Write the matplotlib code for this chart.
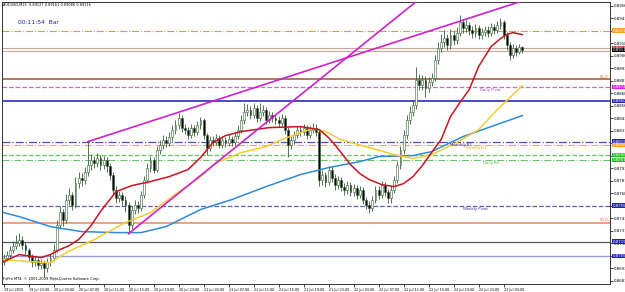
import numpy as np
import matplotlib
matplotlib.use("Agg")
import matplotlib.pyplot as plt

# AUDUSD 30-min candles, prices in pips (x 1e-4)
close_pips = [8704, 8707, 8712, 8716, 8719, 8722, 8717, 8712, 8705, 8700,
              8702, 8697, 8699, 8694, 8700, 8704, 8712, 8737, 8750, 8742,
              8762, 8767, 8757, 8779, 8784, 8782, 8790, 8797, 8802, 8799,
              8804, 8797, 8802, 8796, 8787, 8772, 8764, 8767, 8762, 8757,
              8737, 8752, 8757, 8754, 8767, 8782, 8794, 8802, 8792, 8812,
              8817, 8822, 8819, 8825, 8832, 8837, 8844, 8834, 8832, 8827,
              8834, 8830, 8837, 8842, 8827, 8814, 8822, 8820, 8824, 8817,
              8822, 8819, 8823, 8820, 8826, 8832, 8842, 8850, 8852, 8847,
              8854, 8844, 8850, 8852, 8842, 8847, 8844, 8842, 8839, 8844,
              8832, 8817, 8822, 8827, 8832, 8830, 8834, 8827, 8832, 8834,
              8830, 8782, 8787, 8780, 8792, 8784, 8777, 8782, 8775, 8772,
              8777, 8770, 8774, 8767, 8772, 8762, 8757, 8754, 8762, 8772,
              8767, 8777, 8770, 8764, 8772, 8782, 8797, 8812, 8827, 8842,
              8850, 8857, 8882, 8877, 8882, 8874, 8880, 8884, 8902, 8914,
              8920, 8924, 8917, 8927, 8922, 8929, 8940, 8934, 8937, 8932,
              8929, 8934, 8927, 8930, 8932, 8929, 8935, 8932, 8937, 8940,
              8927, 8917, 8907, 8914, 8910, 8915, 8912]
high_pips = [8708, 8711, 8716, 8721, 8727, 8729, 8726, 8720, 8714, 8708,
             8706, 8705, 8703, 8702, 8704, 8708, 8718, 8742, 8756, 8753,
             8768, 8774, 8770, 8785, 8790, 8789, 8795, 8820, 8808, 8806,
             8809, 8807, 8806, 8805, 8799, 8790, 8776, 8771, 8770, 8766,
             8760, 8756, 8762, 8761, 8771, 8786, 8799, 8806, 8805, 8816,
             8822, 8827, 8826, 8830, 8837, 8842, 8849, 8847, 8838, 8835,
             8838, 8837, 8841, 8845, 8844, 8829, 8826, 8826, 8828, 8827,
             8826, 8825, 8828, 8826, 8830, 8837, 8847, 8859, 8858, 8856,
             8859, 8857, 8859, 8857, 8855, 8851, 8850, 8848, 8846, 8848,
             8847, 8835, 8826, 8831, 8836, 8836, 8838, 8837, 8836, 8839,
             8838, 8833, 8792, 8790, 8796, 8795, 8788, 8786, 8785, 8779,
             8781, 8780, 8778, 8777, 8776, 8775, 8765, 8761, 8766, 8776,
             8776, 8781, 8780, 8773, 8776, 8786, 8801, 8816, 8832, 8847,
             8856, 8862, 8895, 8888, 8887, 8886, 8885, 8889, 8907, 8920,
             8928, 8932, 8928, 8933, 8931, 8935, 8947, 8943, 8942, 8940,
             8936, 8938, 8937, 8934, 8936, 8936, 8939, 8938, 8941, 8944,
             8942, 8930, 8920, 8918, 8917, 8918, 8916]
low_pips = [8697, 8701, 8704, 8709, 8713, 8716, 8713, 8708, 8701, 8695,
            8696, 8693, 8693, 8685, 8690, 8696, 8701, 8710, 8733, 8736,
            8739, 8757, 8752, 8754, 8774, 8776, 8778, 8786, 8792, 8794,
            8795, 8792, 8793, 8790, 8782, 8768, 8759, 8760, 8757, 8750,
            8728, 8733, 8748, 8749, 8751, 8764, 8779, 8790, 8789, 8790,
            8808, 8813, 8815, 8816, 8821, 8828, 8833, 8830, 8828, 8823,
            8824, 8826, 8827, 8833, 8823, 8807, 8811, 8816, 8817, 8814,
            8814, 8815, 8816, 8816, 8817, 8823, 8829, 8838, 8846, 8843,
            8844, 8840, 8841, 8846, 8838, 8839, 8840, 8838, 8835, 8836,
            8828, 8805, 8813, 8818, 8824, 8826, 8827, 8823, 8824, 8829,
            8826, 8776, 8777, 8775, 8777, 8780, 8772, 8773, 8771, 8767,
            8768, 8766, 8766, 8763, 8764, 8758, 8753, 8749, 8751, 8759,
            8763, 8764, 8766, 8759, 8759, 8769, 8779, 8793, 8808, 8823,
            8838, 8846, 8853, 8872, 8872, 8865, 8870, 8876, 8881, 8898,
            8910, 8915, 8912, 8913, 8917, 8918, 8926, 8929, 8930, 8927,
            8924, 8925, 8923, 8923, 8926, 8925, 8926, 8928, 8929, 8933,
            8923, 8912, 8902, 8904, 8906, 8908, 8909]
first_open_pips = 8700

# moving averages (bar index, pips)
ma_red_x = [0, 5, 12, 15, 18, 21, 24, 28, 31, 34, 36, 41, 47, 53, 59, 63, 67, 71,
            76, 85, 95, 101, 104, 106, 111, 114, 117, 121, 125, 128, 131, 134,
            136, 140, 143, 146, 149, 152, 156, 159, 161, 163, 166]
ma_red_y = [8700, 8707, 8704, 8707, 8712, 8716, 8722, 8736, 8750, 8762, 8770, 8776,
            8780, 8785, 8792, 8804, 8819, 8826, 8830, 8834, 8835, 8832, 8824, 8817,
            8797, 8788, 8782, 8777, 8775, 8778, 8785, 8796, 8805, 8822, 8845, 8859,
            8872, 8895, 8915, 8923, 8927, 8929, 8927]
ma_yel_x = [0, 8, 15, 20, 29, 39, 47, 54, 63, 68, 76, 84, 89, 95, 99, 103, 108,
            117, 125, 131, 137, 145, 152, 158, 166]
ma_yel_y = [8702, 8700, 8699, 8709, 8722, 8739, 8749, 8765, 8785, 8799, 8809, 8815,
            8822, 8829, 8833, 8830, 8822, 8814, 8807, 8803, 8807, 8819, 8832, 8852, 8876]
ma_blu_x = [0, 5, 15, 25, 36, 44, 52, 63, 73, 84, 95, 104, 114, 120, 131, 137,
            147, 156, 166]
ma_blu_y = [8749, 8745, 8735, 8730, 8729, 8729, 8735, 8752, 8762, 8775, 8787, 8794,
            8800, 8805, 8806, 8810, 8825, 8835, 8846]

# trend lines: two anchor points each (bar, pips)
trend_x = [[27, 194], [40, 134]]
trend_y = [[8820, 8989], [8728, 8965]]

# horizontal levels
level_price = [0.89311, 0.89132, 0.89106, 0.88826, 0.88746, 0.88606, 0.88199,
               0.88166, 0.88066, 0.88016, 0.87559, 0.87389, 0.87199, 0.87056]
level_color = ['#E0A030', '#C9A898', '#C9A898', '#A0522D', '#CC66DD', '#3838D0',
               '#5050A8', '#E8B040', '#60CC60', '#70C070', '#6060A8', '#F2A07A',
               '#555566', '#9C9CE0']
level_style = ['-.', '-', '-', '-', '--', '-', '-.', '-.', '--', '-.', '--', '-',
               '-', '-']
level_width = [0.8, 0.8, 0.8, 1.1, 0.9, 1.3, 0.9, 0.8, 0.9, 0.8, 0.9, 1.4, 0.9, 1.0]

level_names = ['Daily Pivot', 'Monthly R1', 'Weekly R1', 'Daily R1', 'Weekly Pivot']
name_price = [0.88746, 0.88199, 0.88166, 0.88016, 0.87559]
name_bar = [152.5, 143, 148, 153.5, 147]
name_color = ['#B040C0', '#3030A0', '#E0A030', '#40B040', '#3030A0']

box_price = [0.89311, 0.89132, 0.89116, 0.88746, 0.88606, 0.88199, 0.88166,
             0.88066, 0.88016, 0.87559, 0.87199, 0.87056]
box_color = ['#F0A020', '#D02020', '#000000', '#E020E0', '#2020C0', '#2020C0',
             '#F0A020', '#20C020', '#20C020', '#2020C0', '#2020C0', '#2020C0']

fib_text = ['61.8', '50.0']
fib_price = [0.88826, 0.87389]

time_labels = ['19 Jul 2010', '19 Jul 23:00', '20 Jul 03:00', '20 Jul 07:00',
               '20 Jul 11:00', '20 Jul 15:00', '20 Jul 19:00', '20 Jul 23:00',
               '21 Jul 03:00', '21 Jul 07:00', '21 Jul 11:00', '21 Jul 15:00',
               '21 Jul 19:00', '21 Jul 23:00', '22 Jul 03:00', '22 Jul 07:00',
               '22 Jul 11:00', '22 Jul 15:00', '22 Jul 19:00', '22 Jul 23:00',
               '23 Jul 03:00']
price_ticks = [0.89560 - 0.00125 * k for k in range(23)]

close = np.array(close_pips) / 10000
high = np.array(high_pips) / 10000
low = np.array(low_pips) / 10000
opn = np.concatenate([[first_open_pips / 10000], close[:-1]])
idx = np.arange(len(close))

fig = plt.figure(figsize=(6.25, 2.92), dpi=100)
ax = fig.add_axes([2 / 625, 8 / 292, 608 / 625, 282 / 292])
ax.set_xlim(-0.5, 194.05)
ax.set_ylim(0.86776, 0.89596)

for p, c, s, w in zip(level_price, level_color, level_style, level_width):
    ax.axhline(p, color=c, ls=s, lw=w, zorder=1)

# candles
ax.vlines(idx, low, high, color='#355F35', lw=0.6, zorder=3)
up = close >= opn
body_lo = np.minimum(opn, close)
body_h = np.maximum(np.abs(close - opn), 0.00006)
ax.bar(idx[up], body_h[up], bottom=body_lo[up], width=0.6, color='white',
       edgecolor='#355F35', lw=0.4, zorder=4)
ax.bar(idx[~up], body_h[~up], bottom=body_lo[~up], width=0.6, color='black',
       edgecolor='#355F35', lw=0.4, zorder=4)

ax.plot(ma_blu_x, np.array(ma_blu_y) / 10000, color='#2E8BD8', lw=1.1, zorder=5)
ax.plot(ma_yel_x, np.array(ma_yel_y) / 10000, color='#F5CC30', lw=1.1, zorder=5)
ax.plot(ma_red_x, np.array(ma_red_y) / 10000, color='#C81422', lw=1.1, zorder=5)

for tx, ty in zip(trend_x, trend_y):
    ax.plot(tx, np.array(ty) / 10000, color='#CC22CC', lw=1.2, zorder=6)

for name, p, b, c in zip(level_names, name_price, name_bar, name_color):
    ax.text(b, p - 0.0001, name, color=c, fontsize=2.8, va='top', ha='left', zorder=7)

for t, p in zip(fib_text, fib_price):
    ax.text(193.5, p + 0.00005, t, color='#D07040', fontsize=2.8, ha='right',
            va='bottom')

trans = ax.get_yaxis_transform()
for p, c in zip(box_price, box_color):
    ax.text(1.004, p, '%.5f' % p, transform=trans, fontsize=2.8, color='white',
            va='center', ha='left', clip_on=False, zorder=10,
            bbox=dict(boxstyle='square,pad=0.12', fc=c, ec='none'))

ax.text(0.002, 0.995, 'AUDUSD,M15  0.89127 0.89161 0.89086 0.89116',
        transform=ax.transAxes, fontsize=2.5, va='top', ha='left')
ax.text(0.027, 0.935, '00:11:54  Bar', transform=ax.transAxes, fontsize=4.3,
        color='#20209A', va='top', ha='left')
ax.text(0.002, 0.012, 'FxPro MT4, \u00a9 2001-2009 MetaQuotes Software Corp.',
        transform=ax.transAxes, fontsize=2.6, va='bottom', ha='left')

ax.yaxis.tick_right()
ax.set_yticks(price_ticks)
ax.set_yticklabels(['%.5f' % p for p in price_ticks])
ax.set_xticks(np.arange(0, 8 * len(time_labels), 8))
ax.set_xticklabels(time_labels)
for lab in ax.get_xticklabels():
    lab.set_horizontalalignment('left')
ax.tick_params(axis='y', labelsize=2.8, length=2, width=0.5, pad=1, colors='black')
ax.tick_params(axis='x', labelsize=2.4, length=2, width=0.5, pad=1, colors='black')
for sp in ax.spines.values():
    sp.set_linewidth(0.7)
    sp.set_color('#333333')

fig.savefig('out.png', dpi=100)
